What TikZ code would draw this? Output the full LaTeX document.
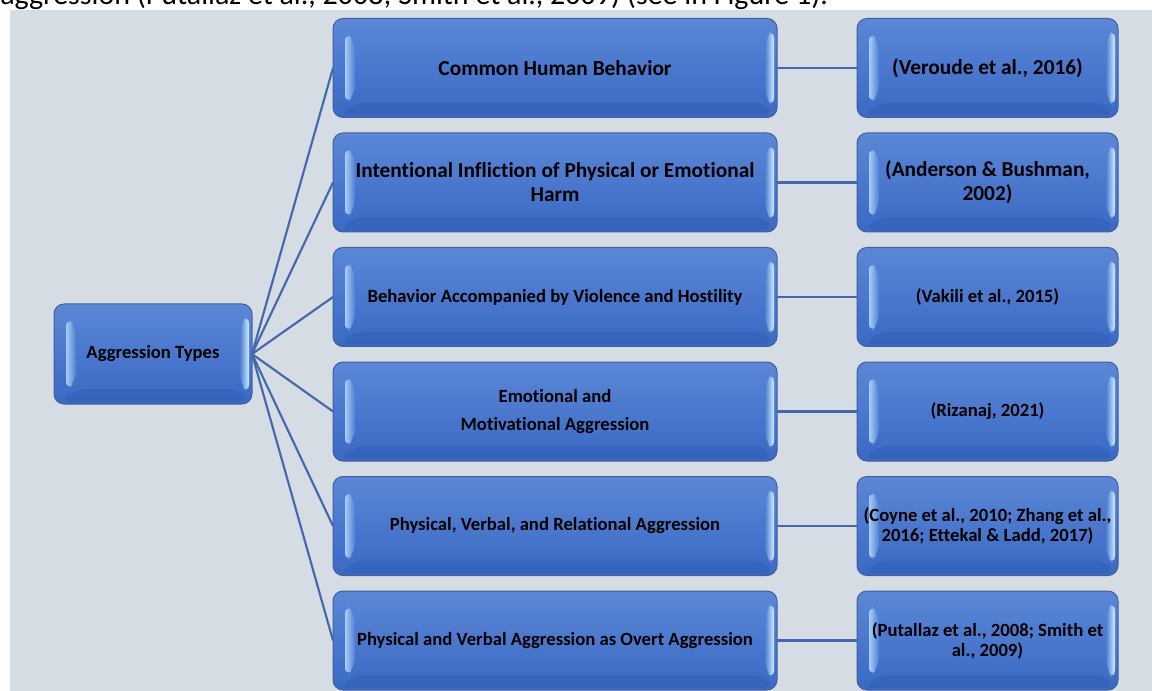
\documentclass[tikz,border=0pt]{standalone}
\usepackage{fontspec}
\setmainfont{Carlito}[Ligatures=NoCommon]
\usetikzlibrary{calc}
\definecolor{bgpanel}{HTML}{D6DCE4}
\definecolor{boxtop}{HTML}{5C87D6}
\definecolor{boxbot}{HTML}{3A69C4}
\definecolor{boxedge}{HTML}{3F5F9F}
\definecolor{conn}{HTML}{4468AE}
\definecolor{hiL}{HTML}{A8CCF8}
\definecolor{hiR}{HTML}{D2EEFF}
\definecolor{midb}{HTML}{4F7ED2}
\definecolor{darkb}{HTML}{2F5DB5}
\tikzset{
  bevelbox/.style={rectangle, rounded corners=7.5pt, draw=boxedge, line width=0.75pt,
    top color=boxtop, bottom color=boxbot, inner sep=0pt, outer sep=0pt,
    align=center, text=black,
    path picture={
      \coordinate (bnw) at (path picture bounding box.north west);
      \coordinate (bne) at (path picture bounding box.north east);
      \coordinate (bsw) at (path picture bounding box.south west);
      \coordinate (bse) at (path picture bounding box.south east);
      \fill[darkb, opacity=0.45] ($(bsw)+(6,-2)$) -- ($(bse)+(-4,-2)$) -- ($(bse)+(-12,-15)$) -- ($(bsw)+(22,-15)$) -- cycle;
      \shade[left color=hiL, right color=midb] ($(bnw)+(12,13)$) -- ($(bnw)+(22,23)$) -- ($(bsw)+(22,-23)$) -- ($(bsw)+(12,-13)$) -- cycle;
      \shade[left color=midb, right color=hiR] ($(bne)+(-12,20)$) -- ($(bne)+(-3,10)$) -- ($(bse)+(-3,-10)$) -- ($(bse)+(-12,-20)$) -- cycle;
    }},
  rootbox/.style={bevelbox, minimum width=148.5pt, minimum height=75pt},
  midbox/.style={bevelbox, minimum width=333pt, minimum height=74.25pt},
  refbox/.style={bevelbox, minimum width=195.75pt, minimum height=74.25pt},
  fbig/.style={font=\bfseries\fontsize{16pt}{18pt}\selectfont},
  fsmall/.style={font=\bfseries\fontsize{14pt}{15pt}\selectfont},
  link/.style={draw=conn, line width=1.6pt},
}
\begin{document}
\begin{tikzpicture}[x=0.75pt, y=-0.75pt]
\clip (0,0) rectangle (1152,691);
\useasboundingbox (0,0) rectangle (1152,691);
\fill[white] (0,0) rectangle (1152,691);
\node[anchor=base west, inner sep=0pt, font=\fontsize{22.5pt}{24pt}\selectfont] (cap) at (0,4.5)
  {aggression (Putallaz et al., 2008; Smith et al., 2009) (see in Figure 1).};
\fill[bgpanel] (10,10) rectangle (1152,691);

\node[rootbox, fsmall] (root) at (153,354) {Aggression Types};

\node[midbox, fbig]   (m1) at (555,68)    {Common Human Behavior};
\node[midbox, fbig]   (m2) at (555,182.5) {Intentional Infliction of Physical or Emotional\\Harm};
\node[midbox, fsmall] (m3) at (555,297)   {Behavior Accompanied by Violence and Hostility};
\node[midbox, fsmall] (m4) at (555,411.5) {Emotional and\\[6pt]Motivational Aggression};
\node[midbox, fsmall] (m5) at (555,526)   {Physical, Verbal, and Relational Aggression};
\node[midbox, fsmall] (m6) at (555,640.5) {Physical and Verbal Aggression as Overt Aggression};

\node[refbox, fbig]   (r1) at (987.5,68)    {(Veroude et al., 2016)};
\node[refbox, fbig]   (r2) at (987.5,182.5) {(Anderson \& Bushman,\\2002)};
\node[refbox, fsmall] (r3) at (987.5,297)   {(Vakili et al., 2015)};
\node[refbox, fsmall] (r4) at (987.5,411.5) {(Rizanaj, 2021)};
\node[refbox, fsmall] (r5) at (987.5,526)   {(Coyne et al., 2010; Zhang et al.,\\2016; Ettekal \& Ladd, 2017)};
\node[refbox, fsmall] (r6) at (987.5,640.5) {(Putallaz et al., 2008; Smith et\\al., 2009)};

\foreach \i in {1,...,6}{
  \draw[link] (root.east) -- (m\i.west);
  \draw[link] (m\i.east) -- (r\i.west);
}
\end{tikzpicture}
\end{document}
